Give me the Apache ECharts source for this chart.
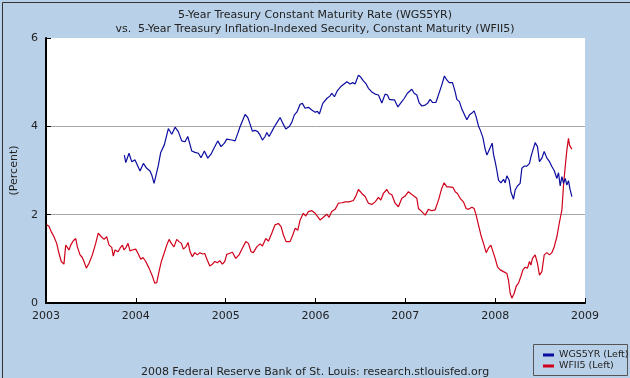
<!DOCTYPE html>
<html><head><meta charset="utf-8">
<script src="https://cdn.jsdelivr.net/npm/echarts@6/dist/echarts.min.js"></script>
<style>html,body{margin:0;padding:0;background:#b8d0e8}#c{width:630px;height:378px}</style>
</head><body><div id="c"></div>
<script>
// Title / labels
const titleLines = ['5-Year Treasury Constant Maturity Rate (WGS5YR)', 'vs.  5-Year Treasury Inflation-Indexed Security, Constant Maturity (WFII5)'];
const footerText = '2008 Federal Reserve Bank of St. Louis: research.stlouisfed.org';
const yTicks = [0, 2, 4, 6];
const xTicks = [2003, 2004, 2005, 2006, 2007, 2008, 2009];
const seriesNames = ['WGS5YR (Left)', 'WFII5 (Left)'];

// WGS5YR: decimal year, percent
const wgsYears = [2003.872,2003.888,2003.924,2003.954,2003.991,2004.047,2004.084,2004.121,2004.158,2004.177,2004.203,2004.222,2004.251,2004.277,2004.317,2004.344,2004.362,2004.400,2004.437,2004.473,2004.511,2004.548,2004.578,2004.604,2004.623,2004.659,2004.696,2004.726,2004.763,2004.801,2004.837,2004.874,2004.912,2004.949,2004.986,2005.012,2005.068,2005.105,2005.135,2005.160,2005.190,2005.216,2005.246,2005.272,2005.297,2005.327,2005.357,2005.383,2005.409,2005.439,2005.458,2005.483,2005.513,2005.542,2005.576,2005.606,2005.631,2005.669,2005.706,2005.736,2005.765,2005.792,2005.829,2005.854,2005.884,2005.921,2005.959,2005.996,2006.021,2006.043,2006.081,2006.126,2006.163,2006.181,2006.211,2006.244,2006.282,2006.318,2006.349,2006.385,2006.415,2006.441,2006.478,2006.505,2006.533,2006.564,2006.589,2006.627,2006.664,2006.701,2006.738,2006.775,2006.801,2006.823,2006.850,2006.879,2006.917,2006.950,2006.987,2007.023,2007.072,2007.098,2007.128,2007.154,2007.184,2007.221,2007.251,2007.276,2007.302,2007.340,2007.380,2007.406,2007.435,2007.462,2007.488,2007.525,2007.555,2007.573,2007.602,2007.629,2007.655,2007.685,2007.714,2007.741,2007.766,2007.788,2007.814,2007.833,2007.863,2007.889,2007.908,2007.937,2007.967,2007.981,2008.000,2008.019,2008.037,2008.064,2008.093,2008.111,2008.130,2008.156,2008.175,2008.204,2008.223,2008.248,2008.278,2008.297,2008.323,2008.353,2008.382,2008.398,2008.420,2008.445,2008.471,2008.493,2008.520,2008.546,2008.576,2008.605,2008.631,2008.657,2008.687,2008.705,2008.724,2008.743,2008.761,2008.780,2008.798,2008.816,2008.835,2008.854];
const wgsValues = [3.35,3.18,3.39,3.20,3.24,2.99,3.16,3.05,2.99,2.90,2.71,2.75,3.12,3.41,3.58,3.80,3.95,3.82,3.98,3.88,3.67,3.65,3.77,3.58,3.44,3.41,3.39,3.29,3.44,3.28,3.37,3.52,3.67,3.54,3.62,3.71,3.69,3.67,3.84,3.99,4.14,4.27,4.20,4.05,3.89,3.91,3.88,3.80,3.69,3.77,3.86,3.77,3.88,3.99,4.10,4.20,4.09,3.94,3.99,4.09,4.26,4.32,4.50,4.52,4.41,4.43,4.37,4.32,4.34,4.28,4.52,4.63,4.69,4.75,4.67,4.81,4.90,4.96,5.01,4.96,4.99,4.96,5.16,5.11,5.03,4.96,4.86,4.78,4.73,4.71,4.53,4.73,4.71,4.61,4.60,4.60,4.44,4.53,4.63,4.75,4.84,4.75,4.71,4.53,4.46,4.48,4.53,4.61,4.54,4.54,4.78,4.94,5.14,5.05,4.99,4.99,4.78,4.61,4.56,4.39,4.28,4.15,4.26,4.30,4.35,4.22,4.01,3.92,3.75,3.48,3.35,3.48,3.62,3.37,3.20,3.00,2.78,2.72,2.80,2.72,2.88,2.78,2.52,2.35,2.56,2.65,2.71,3.05,3.10,3.10,3.16,3.31,3.46,3.63,3.54,3.20,3.28,3.43,3.28,3.20,3.09,3.00,2.82,2.95,2.65,2.86,2.71,2.82,2.67,2.77,2.56,2.41];

// WFII5: decimal year, percent
const wfiiYears = [2003.008,2003.033,2003.059,2003.089,2003.119,2003.145,2003.170,2003.200,2003.219,2003.237,2003.256,2003.275,2003.304,2003.331,2003.349,2003.379,2003.404,2003.423,2003.449,2003.479,2003.516,2003.553,2003.582,2003.616,2003.646,2003.676,2003.702,2003.732,2003.749,2003.768,2003.802,2003.824,2003.850,2003.869,2003.891,2003.913,2003.935,2003.961,2003.999,2004.025,2004.055,2004.080,2004.110,2004.147,2004.184,2004.210,2004.233,2004.258,2004.284,2004.314,2004.344,2004.370,2004.395,2004.425,2004.455,2004.481,2004.507,2004.529,2004.556,2004.581,2004.604,2004.629,2004.656,2004.685,2004.715,2004.741,2004.767,2004.796,2004.823,2004.852,2004.879,2004.908,2004.934,2004.963,2004.990,2005.012,2005.038,2005.075,2005.112,2005.149,2005.186,2005.224,2005.253,2005.283,2005.308,2005.346,2005.383,2005.409,2005.447,2005.476,2005.513,2005.550,2005.587,2005.617,2005.643,2005.673,2005.717,2005.747,2005.773,2005.803,2005.829,2005.865,2005.892,2005.921,2005.959,2005.996,2006.051,2006.088,2006.126,2006.151,2006.181,2006.218,2006.255,2006.293,2006.330,2006.374,2006.422,2006.449,2006.478,2006.516,2006.552,2006.589,2006.627,2006.664,2006.701,2006.727,2006.756,2006.794,2006.820,2006.850,2006.886,2006.923,2006.961,2006.998,2007.034,2007.065,2007.101,2007.128,2007.146,2007.184,2007.221,2007.257,2007.295,2007.332,2007.369,2007.406,2007.432,2007.462,2007.491,2007.529,2007.555,2007.580,2007.610,2007.647,2007.677,2007.703,2007.741,2007.766,2007.788,2007.814,2007.841,2007.870,2007.900,2007.925,2007.952,2007.974,2008.000,2008.026,2008.056,2008.093,2008.130,2008.148,2008.167,2008.186,2008.212,2008.234,2008.260,2008.286,2008.309,2008.334,2008.360,2008.382,2008.398,2008.415,2008.445,2008.471,2008.493,2008.520,2008.546,2008.576,2008.605,2008.631,2008.657,2008.687,2008.713,2008.743,2008.761,2008.780,2008.798,2008.816,2008.827,2008.854];
const wfiiValues = [1.77,1.74,1.61,1.50,1.35,1.12,0.94,0.88,1.31,1.26,1.20,1.31,1.41,1.46,1.27,1.09,1.03,0.94,0.79,0.90,1.09,1.35,1.58,1.50,1.44,1.50,1.31,1.26,1.06,1.20,1.16,1.24,1.31,1.20,1.26,1.35,1.18,1.20,1.22,1.12,0.99,1.03,0.94,0.79,0.61,0.45,0.46,0.71,0.94,1.12,1.31,1.44,1.35,1.27,1.44,1.39,1.35,1.22,1.27,1.37,1.16,1.05,1.14,1.09,1.14,1.11,1.12,0.97,0.84,0.88,0.94,0.91,0.96,0.88,0.94,1.10,1.12,1.15,1.01,1.09,1.24,1.39,1.35,1.16,1.14,1.27,1.34,1.29,1.46,1.40,1.58,1.77,1.80,1.73,1.54,1.39,1.39,1.54,1.69,1.65,1.88,2.03,1.97,2.07,2.09,2.03,1.88,1.94,2.01,1.94,2.07,2.12,2.26,2.27,2.29,2.29,2.32,2.42,2.57,2.48,2.41,2.26,2.23,2.29,2.39,2.33,2.48,2.57,2.48,2.45,2.26,2.18,2.37,2.42,2.52,2.47,2.41,2.37,2.14,2.07,1.99,2.12,2.09,2.11,2.33,2.60,2.72,2.63,2.63,2.62,2.52,2.48,2.37,2.29,2.14,2.12,2.17,2.14,1.99,1.77,1.54,1.35,1.14,1.24,1.31,1.27,1.01,0.82,0.75,0.71,0.67,0.52,0.22,0.11,0.22,0.38,0.45,0.60,0.75,0.81,0.79,0.94,0.86,1.01,1.09,0.90,0.63,0.71,1.09,1.14,1.09,1.14,1.27,1.50,1.80,2.11,2.67,3.09,3.46,3.73,3.58,3.48];

const FONT = 'DejaVu Sans';
const zip = (a, b) => a.map((v, i) => [v, b[i]]);

const chart = echarts.init(document.getElementById('c'), null, {renderer: 'canvas'});
chart.setOption({
  animation: false,
  backgroundColor: '#b8d0e8',
  textStyle: {fontFamily: FONT},
  title: [
    {text: titleLines.join('\n'), left: 'center', top: 3,
     textStyle: {fontFamily: FONT, fontSize: 11, fontWeight: 'normal', color: '#222', lineHeight: 14}},
    {text: footerText, left: 'center', top: 362,
     textStyle: {fontFamily: FONT, fontSize: 11, fontWeight: 'normal', color: '#222'}}
  ],
  grid: {left: 46, right: 45, top: 38, bottom: 75, backgroundColor: '#ffffff', show: true, borderWidth: 0},
  xAxis: {
    type: 'value', min: xTicks[0], max: xTicks[xTicks.length - 1], interval: 1,
    axisLine: {show: true, onZero: false, lineStyle: {color: '#000', width: 2}},
    axisTick: {show: true, inside: true, length: 5, lineStyle: {color: '#000'}},
    axisLabel: {color: '#222', fontSize: 11, fontFamily: FONT, margin: 8, formatter: v => String(v)},
    splitLine: {show: false}
  },
  yAxis: {
    type: 'value', min: yTicks[0], max: yTicks[yTicks.length - 1], interval: 2,
    name: '(Percent)', nameLocation: 'middle', nameGap: 22, nameRotate: 90,
    nameTextStyle: {color: '#222', fontSize: 11, fontFamily: FONT},
    axisLine: {show: true, lineStyle: {color: '#000', width: 2}},
    axisTick: {show: true, inside: true, length: 5, lineStyle: {color: '#000'}},
    axisLabel: {color: '#222', fontSize: 11, fontFamily: FONT, margin: 8},
    splitLine: {show: true, showMinLine: false, showMaxLine: false, lineStyle: {color: '#a8a8a8', width: 1}}
  },
  legend: {
    orient: 'vertical', left: 538, top: 345, itemGap: 1,
    itemWidth: 11, itemHeight: 3, icon: 'rect',
    textStyle: {fontFamily: FONT, fontSize: 9.5, color: '#222'},
    data: seriesNames
  },
  graphic: [
    {type: 'rect', left: 531, top: 342, shape: {width: 94, height: 31},
     style: {fill: 'none', stroke: '#555', lineWidth: 1}, silent: true},
    {type: 'rect', left: 0, top: 0, shape: {width: 629, height: 377},
     style: {fill: 'none', stroke: '#333', lineWidth: 1}, silent: true}
  ],
  series: [
    {name: seriesNames[0], type: 'line', data: zip(wgsYears, wgsValues), showSymbol: false,
     lineStyle: {color: '#0c0ca0', width: 1.2}, itemStyle: {color: '#0c0ca0'}, z: 3},
    {name: seriesNames[1], type: 'line', data: zip(wfiiYears, wfiiValues), showSymbol: false,
     lineStyle: {color: '#d0001a', width: 1.2}, itemStyle: {color: '#d0001a'}, z: 2}
  ]
});
</script></body></html>
